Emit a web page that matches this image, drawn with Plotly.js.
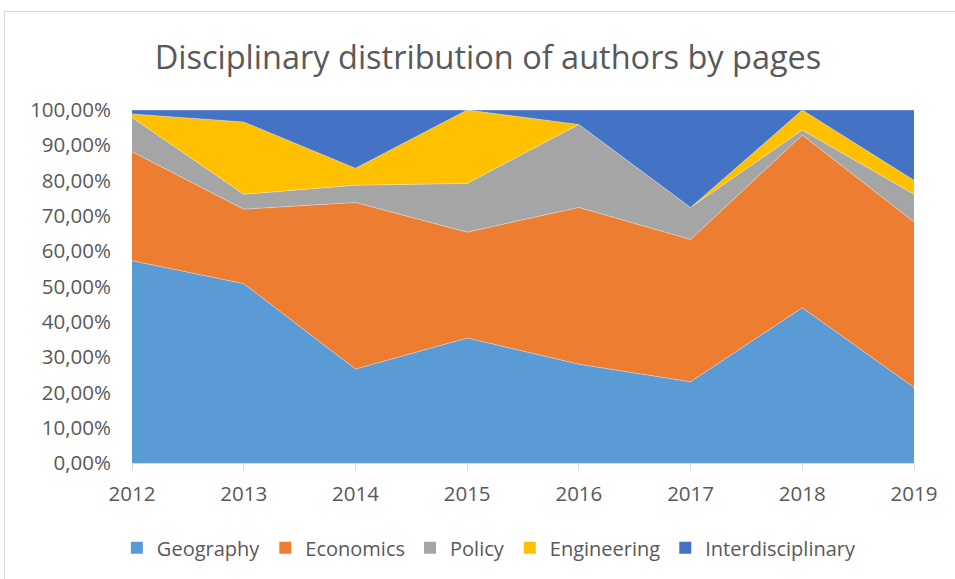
<!DOCTYPE html>
<html>
<head>
<meta charset="utf-8">
<script src="https://cdn.plot.ly/plotly-3.0.1.min.js"></script>
<style>
  body { margin: 0; background: #fff; }
  #chart { width: 955px; height: 579px; }
  #frame { position: absolute; left: 4px; top: 11px; width: 960px; height: 600px;
           border: 1px solid #d9d9d9; pointer-events: none; }
</style>
</head>
<body>
<div id="chart"></div>
<div id="frame"></div>
<script>
const years = [2012, 2013, 2014, 2015, 2016, 2017, 2018, 2019];

// share of pages per discipline, in percent
const geography = [57.3, 50.8, 26.6, 35.4, 28.0, 23.0, 44.0, 21.4];
const economics = [30.9, 21.1, 47.2, 30.0, 44.4, 40.3, 48.9, 46.9];
const policy = [9.7, 4.2, 4.9, 13.8, 23.5, 9.1, 1.4, 7.8];
const engineering = [1.0, 20.5, 4.8, 20.8, 0.0, 0.0, 5.7, 4.0];
const interdisciplinary = [1.1, 3.4, 16.5, 0.0, 4.1, 27.6, 0.0, 19.9];

const seriesNames = ['Geography', 'Economics', 'Policy', 'Engineering', 'Interdisciplinary'];
const seriesValues = [geography, economics, policy, engineering, interdisciplinary];
const seriesColors = ['#5B9BD5', '#ED7D31', '#A5A5A5', '#FFC000', '#4472C4'];

const font = '"Open Sans", "Noto Sans", sans-serif';

const areas = seriesNames.map((name, i) => ({
  name,
  legendgroup: name,
  showlegend: false,
  x: years,
  y: seriesValues[i],
  type: 'scatter',
  mode: 'lines',
  stackgroup: 'pages',
  groupnorm: i === 0 ? 'percent' : undefined,
  fillcolor: seriesColors[i],
  line: { width: 0.6, color: 'rgba(255,255,255,0.55)' },
  hovertemplate: '%{x}: %{y:.2f}%<extra>' + name + '</extra>',
}));

// legend-only entries so the keys show as squares, like the original
const keys = seriesNames.map((name, i) => ({
  name,
  legendgroup: name,
  type: 'bar',
  x: [null],
  y: [null],
  marker: { color: seriesColors[i] },
}));

const layout = {
  width: 955,
  height: 579,
  margin: { l: 132, r: 41, t: 110, b: 116 },
  paper_bgcolor: '#fff',
  plot_bgcolor: '#fff',
  separators: ', ',
  font: { family: font, color: '#595959', size: 20.5 },
  title: {
    text: 'Disciplinary distribution of authors by pages',
    font: { family: font, size: 32.5, color: '#595959' },
    x: 0.511,
    xanchor: 'center',
    y: 0.9,
    yanchor: 'middle',
  },
  xaxis: {
    type: 'linear',
    range: [2012, 2019],
    tickvals: years,
    ticktext: years.map(String),
    ticks: 'outside',
    ticklen: 6,
    tickcolor: '#d9d9d9',
    showline: true,
    linecolor: '#d9d9d9',
    showgrid: false,
    zeroline: false,
    ticklabelstandoff: 6,
    fixedrange: true,
  },
  yaxis: {
    range: [0, 100],
    dtick: 10,
    tickformat: '.2f',
    ticksuffix: '%',
    showgrid: false,
    zeroline: false,
    showline: false,
    ticklabelstandoff: 20,
    fixedrange: true,
  },
  showlegend: true,
  legend: {
    orientation: 'h',
    x: 0.457,
    xanchor: 'center',
    y: -0.185,
    yanchor: 'top',
    font: { family: font, size: 20, color: '#595959' },
    traceorder: 'normal',
  },
};

Plotly.newPlot('chart', [...areas, ...keys], layout, { displayModeBar: false, staticPlot: true });
</script>
</body>
</html>
